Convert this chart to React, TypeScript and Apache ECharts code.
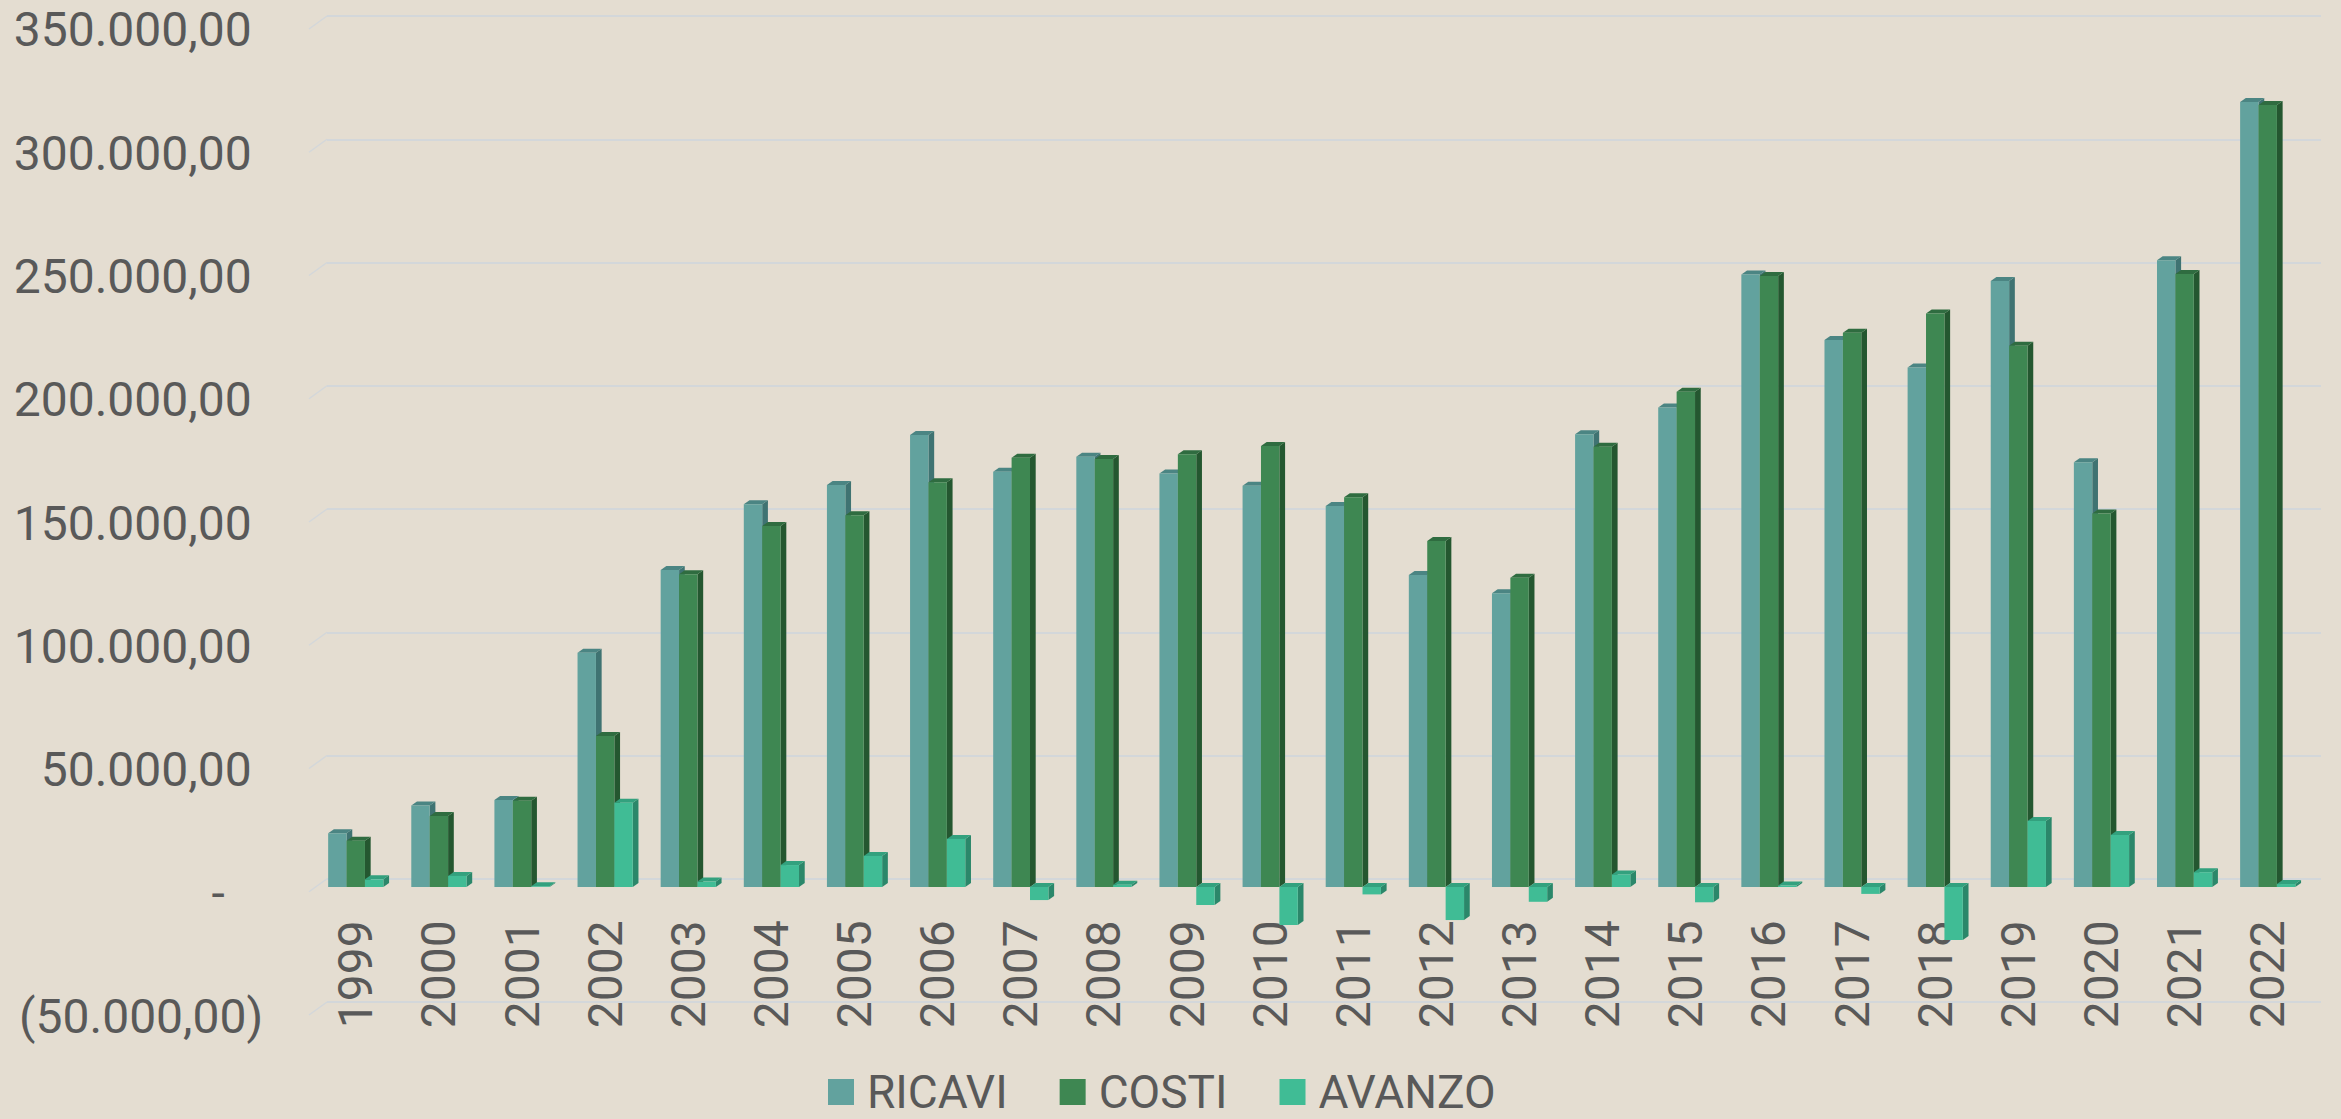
import React, { useEffect, useRef } from "react";
import * as echarts from "echarts";

const YEARS = ["1999", "2000", "2001", "2002", "2003", "2004", "2005", "2006", "2007", "2008", "2009", "2010", "2011", "2012", "2013", "2014", "2015", "2016", "2017", "2018", "2019", "2020", "2021", "2022"];
const RICAVI = [21800, 33000, 35300, 95000, 128500, 155200, 163000, 183300, 168400, 174500, 167700, 162700, 154500, 126500, 119100, 183600, 194400, 248400, 221800, 210700, 245700, 172200, 254200, 318300];
const COSTI = [18800, 28800, 35000, 61200, 126800, 146400, 150800, 164100, 174100, 173600, 175500, 178800, 158000, 140300, 125400, 178500, 200800, 247800, 224800, 232600, 219500, 151500, 248600, 317100];
const AVANZO = [3100, 4500, 300, 34200, 2200, 8900, 12600, 19500, -5300, 900, -7300, -15400, -3000, -13400, -6000, 5100, -6200, 600, -2800, -21500, 26800, 21100, 6000, 1200];
const TICKS = [-50000, 0, 50000, 100000, 150000, 200000, 250000, 300000, 350000];
const SERIES_NAMES = ["RICAVI", "COSTI", "AVANZO"];

const BG = "#e4ddd1";
const TEXT = "#595959";
const GRID_LINE = "#d3d7da";
const FONT = "Roboto, 'Noto Sans', sans-serif";
const COLORS = [
  { face: "#62a29e", top: "#4b8583", side: "#3f7372" },
  { face: "#3e8752", top: "#2f6c40", side: "#245730" },
  { face: "#40bc95", top: "#33a17e", side: "#2b876a" },
];
const DEPTH_X = 5.7;
const DEPTH_Y = 4;
const BAR_FRAC = 18.4 / 83.1;

function fmt(v: number): string {
  if (v === 0) return "{z|-}";
  const parts = Math.abs(v).toFixed(2).split(".");
  const intPart = parts[0].replace(/\B(?=(\d{3})+(?!\d))/g, ".");
  const t = intPart + "," + parts[1];
  return v < 0 ? "{n|(" + t + ")}" : "{p|" + t + "}";
}

function barRenderer(idx: number) {
  const c = COLORS[idx];
  return (params: any, api: any) => {
    const i = api.value(0);
    const v = api.value(1);
    const p0 = api.coord([i, 0]);
    const p1 = api.coord([i, v]);
    const band = api.size([1, 0])[0];
    const w = band * BAR_FRAC;
    const x0 = p0[0] - 1.5 * w + idx * w;
    const yT = Math.min(p0[1], p1[1]);
    const yB = Math.max(p0[1], p1[1]);
    return {
      type: "group",
      children: [
        {
          type: "polygon",
          shape: { points: [[x0 + w, yT], [x0 + w + DEPTH_X, yT - DEPTH_Y], [x0 + w + DEPTH_X, yB - DEPTH_Y], [x0 + w, yB]] },
          style: { fill: c.side },
        },
        {
          type: "polygon",
          shape: { points: [[x0, yT], [x0 + DEPTH_X, yT - DEPTH_Y], [x0 + w + DEPTH_X, yT - DEPTH_Y], [x0 + w, yT]] },
          style: { fill: c.top },
        },
        {
          type: "rect",
          shape: { x: x0, y: yT, width: w, height: Math.max(yB - yT, 0.01) },
          style: { fill: c.face },
        },
      ],
    };
  };
}

export default function App() {
  const ref = useRef<HTMLDivElement>(null);
  useEffect(() => {
    document.body.style.margin = "0";
    document.body.style.background = BG;
    if (!ref.current) return;
    const chart = echarts.init(ref.current, undefined, { renderer: "svg" });
    const dataSets = [RICAVI, COSTI, AVANZO];
    const option: any = {
      animation: false,
      backgroundColor: BG,
      textStyle: { fontFamily: FONT },
      grid: [
        { left: 327, right: 20, top: 16, bottom: 117, containLabel: false, outerBoundsMode: "none" },
        { left: 314.2, right: 31.7, top: 23.9, bottom: 108.7, containLabel: false, outerBoundsMode: "none" },
      ],
      xAxis: [
        { type: "value", gridIndex: 0, min: 0, max: 1, show: false },
        {
          type: "category",
          gridIndex: 1,
          data: YEARS,
          position: "bottom",
          axisLine: { show: false, onZero: false },
          axisTick: { show: false },
          splitLine: { show: false },
          axisLabel: {
            rotate: 90,
            margin: -90,
            fontSize: 48,
            color: TEXT,
            fontFamily: FONT,
            interval: 0,
          },
        },
      ],
      yAxis: [
        {
          type: "value",
          gridIndex: 0,
          min: -50000,
          max: 350000,
          interval: 50000,
          axisLine: { show: false },
          axisTick: { show: false },
          axisLabel: { show: false },
          splitLine: { show: true, lineStyle: { color: GRID_LINE, width: 2 } },
        },
        {
          type: "value",
          gridIndex: 1,
          min: -50000,
          max: 350000,
          interval: 50000,
          axisLine: { show: false },
          axisTick: { show: false },
          splitLine: { show: false },
          axisLabel: {
            margin: 51,
            padding: [12, 0, 0, 0],
            fontSize: 48,
            color: TEXT,
            fontFamily: FONT,
            formatter: fmt,
            rich: {
              p: { fontSize: 48, color: TEXT, fontFamily: FONT, padding: [0, 11.5, 0, 0] },
              n: { fontSize: 48, color: TEXT, fontFamily: FONT },
              z: { fontSize: 48, color: TEXT, fontFamily: FONT, padding: [0, 38.5, 0, 0] },
            },
          },
        },
      ],
      legend: {
        data: SERIES_NAMES,
        left: 823,
        top: 1064,
        orient: "horizontal",
        icon: "rect",
        itemWidth: 26,
        itemHeight: 26,
        itemGap: 52,
        textStyle: { fontSize: 46, lineHeight: 38, color: TEXT, fontFamily: FONT, padding: [0, 0, 0, 8] },
      },
      series: [
        {
          type: "custom",
          name: "walls",
          xAxisIndex: 0,
          yAxisIndex: 0,
          silent: true,
          data: TICKS.map((t) => [0, t]),
          renderItem: (params: any, api: any) => {
            const p = api.coord([0, api.value(1)]);
            return {
              type: "line",
              shape: { x1: p[0] - 18, y1: p[1] + 13, x2: p[0], y2: p[1] },
              style: { stroke: GRID_LINE, lineWidth: 1.5 },
            };
          },
        },
        ...SERIES_NAMES.map((name, idx) => ({
          type: "custom",
          name,
          xAxisIndex: 1,
          yAxisIndex: 1,
          itemStyle: { color: COLORS[idx].face },
          data: dataSets[idx].map((v, i) => [i, v]),
          encode: { x: 0, y: 1 },
          renderItem: barRenderer(idx),
        })),
      ],
    };
    chart.setOption(option);
    return () => chart.dispose();
  }, []);
  return <div ref={ref} style={{ width: 2341, height: 1119, background: BG }} />;
}
